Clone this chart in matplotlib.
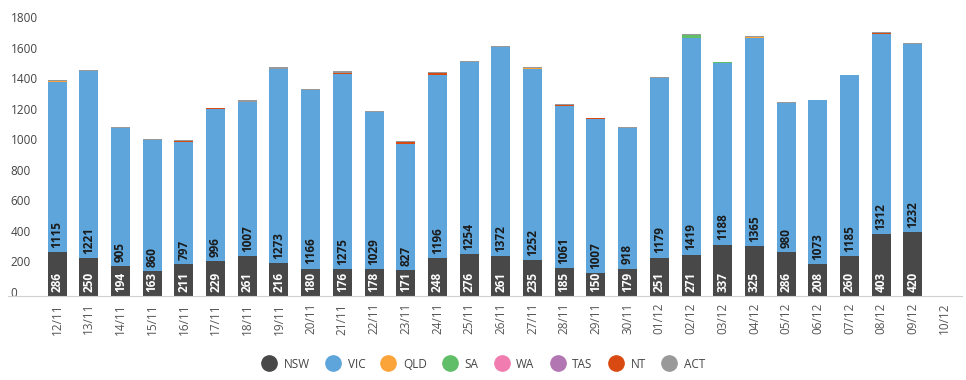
import numpy as np
import matplotlib.pyplot as plt
from matplotlib.lines import Line2D
import matplotlib.transforms as mtransforms

plt.rcParams['font.family'] = ['Open Sans', 'DejaVu Sans']

dates = ['12/11', '13/11', '14/11', '15/11', '16/11', '17/11', '18/11', '19/11', '20/11',
         '21/11', '22/11', '23/11', '24/11', '25/11', '26/11', '27/11', '28/11', '29/11',
         '30/11', '01/12', '02/12', '03/12', '04/12', '05/12', '06/12', '07/12', '08/12',
         '09/12', '10/12']

nsw = [286, 250, 194, 163, 211, 229, 261, 216, 180, 176, 178, 171, 248, 276, 261, 235,
       185, 150, 179, 251, 271, 337, 325, 286, 208, 260, 403, 420, 0]
vic = [1115, 1221, 905, 860, 797, 996, 1007, 1273, 1166, 1275, 1029, 827, 1196, 1254,
       1372, 1252, 1061, 1007, 918, 1179, 1419, 1188, 1365, 980, 1073, 1185, 1312, 1232, 0]
qld = [4, 0, 0, 0, 0, 0, 0, 0, 0, 2, 0, 0, 3, 0, 0, 3, 0, 0, 4, 0, 0, 0, 6, 0, 0, 0, 2, 0, 0]
sa = [1, 0, 0, 0, 0, 0, 0, 0, 0, 0, 0, 0, 0, 0, 0, 0, 0, 0, 0, 0, 20, 4, 0, 0, 0, 4, 0, 0, 0]
wa = [0] * 29
tas = [0] * 29
nt = [2, 0, 0, 0, 6, 4, 0, 0, 0, 8, 0, 7, 12, 0, 0, 0, 6, 7, 0, 0, 0, 0, 0, 0, 0, 0, 6, 0, 0]
act = [8, 6, 8, 6, 10, 2, 16, 12, 8, 10, 6, 7, 10, 6, 4, 8, 4, 4, 3, 3, 3, 0, 3, 2, 2, 0, 3, 3, 0]

series = [('NSW', nsw, '#484848'), ('VIC', vic, '#5DA5DA'), ('QLD', qld, '#FAA43A'),
          ('SA', sa, '#60BD68'), ('WA', wa, '#F17CB0'), ('TAS', tas, '#B276B2'),
          ('NT', nt, '#D84A12'), ('ACT', act, '#999999')]

fig = plt.figure(figsize=(9.66, 3.8), dpi=100)
ax = fig.add_axes([8 / 966, 84 / 380, 954 / 966, 275 / 380])

x = np.arange(len(dates))
bottom = np.zeros(len(dates))
for name, vals, col in series:
    vals = np.array(vals, dtype=float)
    ax.bar(x, vals, 0.6, bottom=bottom, color=col, label=name)
    if name in ('NSW', 'VIC'):
        tcol = 'white' if name == 'NSW' else '#1a1a1a'
        for xi, b, v in zip(x, bottom, vals):
            if v > 0:
                ax.annotate(str(int(v)), (xi, b), xytext=(0, 3), textcoords='offset points',
                            rotation=90, ha='center', va='bottom', fontsize=8.5,
                            fontweight='bold', color=tcol)
    bottom += vals

ax.set_xlim(-1.55, 28.55)
ax.set_ylim(0, 1800)
ax.set_xticks(x)
ax.set_xticklabels(dates, rotation=90, fontsize=8.5, color='#555555')
ax.tick_params(axis='x', length=0, pad=5)
ax.set_yticks(np.arange(0, 1801, 200))
ax.tick_params(axis='y', length=0, pad=-2, labelsize=8.5, labelcolor='#444444')
offset = mtransforms.ScaledTranslation(0, 4 / 100, fig.dpi_scale_trans)
for lbl in ax.get_yticklabels():
    lbl.set_ha('left')
    lbl.set_transform(lbl.get_transform() + offset)

for s in ['top', 'right', 'left']:
    ax.spines[s].set_visible(False)
ax.spines['bottom'].set_color('#d0d0d0')

handles = [Line2D([], [], marker='o', linestyle='', markersize=11, color=c) for _, _, c in series]
fig.legend(handles, [n for n, _, _ in series], loc='center', bbox_to_anchor=(0.5, 1 - 364 / 380),
           ncol=8, frameon=False, fontsize=8.5, labelcolor='#444444', handletextpad=0.6,
           columnspacing=1.3, handlelength=1.3)

fig.savefig('out.png', dpi=100)
